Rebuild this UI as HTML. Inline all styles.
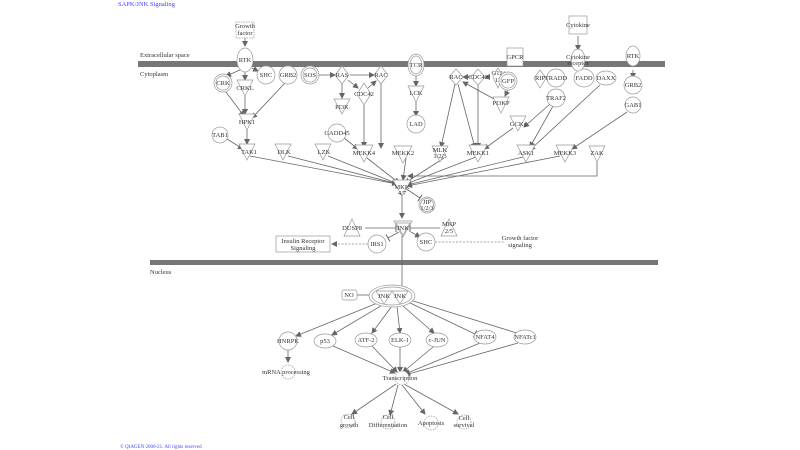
<!DOCTYPE html>
<html><head><style>
body{margin:0;background:#fff;width:800px;height:450px;overflow:hidden}
svg{display:block}
text{font-family:"Liberation Serif",serif;font-size:6.5px;fill:#333;text-anchor:middle}
.n{fill:#fff;stroke:#999;stroke-width:0.7}
.l{stroke:#666;stroke-width:0.8;fill:none}
.d{stroke:#888;stroke-width:0.7;fill:none;stroke-dasharray:2,1.5}
</style></head><body>
<svg width="800" height="450" viewBox="0 0 800 450">
<defs><marker id="a" markerWidth="6" markerHeight="6" refX="5" refY="3" orient="auto" markerUnits="userSpaceOnUse"><path d="M0,0L6,3L0,6z" fill="#666"/></marker>
<marker id="t" markerWidth="2" markerHeight="8" refX="1" refY="4" orient="auto" markerUnits="userSpaceOnUse"><path d="M1,0V8" stroke="#666" stroke-width="1"/></marker></defs>
<text x="118" y="6" style="fill:#44f;text-anchor:start">SAPK/JNK Signaling</text>
<text x="120" y="448" style="fill:#44f;text-anchor:start;font-size:5px">© QIAGEN 2000-21. All rights reserved</text>
<rect x="138" y="61" width="527" height="6" fill="#777"/>
<text x="140" y="57" style="text-anchor:start">Extracellular space</text>
<text x="140" y="76" style="text-anchor:start">Cytoplasm</text>
<rect x="150" y="260" width="508" height="5" fill="#777"/>
<text x="150" y="274" style="text-anchor:start">Nucleus</text>
<g class="l" marker-end="url(#a)">
<path d="M245,38V46"/><path d="M240,70L226,76"/><path d="M245,72V80"/><path d="M252,68L258,71"/>
<path d="M226,92L244,116"/><path d="M245,96V114"/><path d="M285,83L252,118"/><path d="M247,128V144"/>
<path d="M227,139L243,149"/><path d="M318,75H335"/><path d="M350,75H374"/><path d="M342,82V98"/><path d="M348,80L358,88"/><path d="M368,88L376,81"/>
<path d="M364,101V147"/><path d="M381,82V148"/><path d="M344,138L358,149"/><path d="M416,73V86"/><path d="M416,100V116"/>
<path d="M455,84L441,147"/><path d="M458,84L475,148"/><path d="M478,85V148"/><path d="M472,77H463"/><path d="M490,77H485"/><path d="M496,100L463,82"/>
<path d="M508,90L505,96"/><path d="M578,36V50"/><path d="M553,106L530,147"/><path d="M550,104L524,127"/><path d="M513,128L484,149"/><path d="M600,85L530,150"/>
<path d="M633,70V78"/>
<path d="M250,156L397,184"/><path d="M288,156L398,184"/><path d="M328,156L398,184"/><path d="M367,158L399,183"/><path d="M406,158L403,180"/><path d="M444,158L405,183"/><path d="M476,157L406,184"/><path d="M523,157L407,185"/><path d="M560,156L407,186"/><path d="M597,162V176H408"/><path d="M627,112L572,149"/>
<path d="M402,194V218"/><path d="M411,232L420,237"/>
<path d="M400,325L372,298" style="display:none"/>
<path d="M380,302L296,336"/><path d="M384,304L332,335"/><path d="M392,306L372,333"/><path d="M397,306L400,333"/><path d="M403,306L434,333"/><path d="M288,350V362"/>
<path d="M333,346L395,373"/><path d="M372,346L397,372"/><path d="M400,347V372"/><path d="M433,347L403,372"/><path d="M480,343L405,374"/><path d="M518,343L405,375"/>
<path d="M396,384L352,414"/><path d="M398,385L390,415"/><path d="M402,385L425,414"/><path d="M404,384L458,414"/>
</g>
<g class="l" marker-end="url(#t)">
<path d="M408,302L475,334"/><path d="M410,300L520,334"/><path d="M365,228H396"/><path d="M440,228H410"/><path d="M399,232L388,238"/><path d="M402,236V287"/><path d="M357,295H372"/><path d="M405,188L420,198"/>
</g>
<path class="d" d="M368,244H332" marker-end="url(#a)"/><path class="d" d="M435,242H505"/>
<path class="l" d="M245,20V38" style="display:none"/>
<!-- nodes -->
<rect class="n" x="236" y="22" width="18" height="16" style="stroke-dasharray:1.5,1"/><text x="245" y="28">Growth</text><text x="245" y="35">factor</text>
<ellipse class="n" cx="245" cy="60" rx="8" ry="12"/><text x="245" y="62">RTK</text>
<circle class="n" cx="223" cy="83" r="9"/><circle class="n" cx="223" cy="83" r="7"/><text x="223" y="85">CRK</text>
<path class="n" d="M237,80H253L245,96z"/><text x="245" y="90">CRKL</text>
<circle class="n" cx="266" cy="75" r="9"/><text x="266" y="77">SHC</text>
<circle class="n" cx="288" cy="75" r="9"/><text x="288" y="77">GRB2</text>
<circle class="n" cx="310" cy="75" r="9"/><circle class="n" cx="310" cy="75" r="7"/><text x="310" y="77">SOS</text>
<path class="n" d="M342,66L349,75L342,84L335,75z"/><text x="342" y="77">RAS</text>
<path class="n" d="M381,66L388,75L381,84L374,75z"/><text x="381" y="77">RAC</text>
<path class="n" d="M364,83L371,94L364,105L357,94z"/><text x="364" y="96">CDC42</text>
<path class="n" d="M334,99H350L342,114z"/><text x="342" y="109">PI3K</text>
<path class="n" d="M239,114H255L247,130z"/><text x="247" y="124">HPK1</text>
<circle class="n" cx="220" cy="135" r="8"/><text x="220" y="137">TAB1</text>
<path class="n" d="M239,144H255L247,160z"/><text x="249" y="154">TAK1</text>
<path class="n" d="M275,144H291L283,160z"/><text x="284" y="154">DLK</text>
<path class="n" d="M315,144H331L323,160z"/><text x="324" y="154">LZK</text>
<circle class="n" cx="337" cy="133" r="9"/><text x="337" y="135">GADD45</text>
<path class="n" d="M355,145H373L364,162z"/><text x="364" y="155">MEKK4</text>
<ellipse class="n" cx="416" cy="65" rx="8" ry="11"/><ellipse class="n" cx="416" cy="65" rx="6" ry="9"/><text x="416" y="67">TCR</text>
<path class="n" d="M408,86H424L416,102z"/><text x="416" y="95">LCK</text>
<circle class="n" cx="416" cy="124" r="9"/><text x="416" y="126">LAD</text>
<path class="n" d="M394,146H412L403,163z"/><text x="403" y="155">MEKK2</text>
<path class="n" d="M456,69L463,77L456,85L449,77z"/><text x="456" y="79">RAC</text>
<path class="n" d="M478,69L485,77L478,85L471,77z"/><text x="478" y="79">CDC42</text>
<path class="n" d="M498,68L503,77L498,88L493,77z"/><text x="498" y="75">G12/</text><text x="498" y="82">13</text>
<rect class="n" x="507" y="48" width="16" height="18"/><text x="515" y="59">GPCR</text>
<circle class="n" cx="508" cy="81" r="9"/><circle class="n" cx="508" cy="81" r="7"/><text x="508" y="83">GFP</text>
<path class="n" d="M493,97H509L501,113z"/><text x="501" y="105">PI3KP</text>
<path class="n" d="M432,146H448L440,162z"/><text x="440" y="152">MLK</text><text x="440" y="158">1/2/3</text>
<path class="n" d="M469,145H487L478,162z"/><text x="478" y="155">MEKK1</text>
<path class="n" d="M510,116H526L518,131z"/><text x="518" y="126">GCKs</text>
<path class="n" d="M540,70L546,78L540,88L534,78z"/><text x="540" y="80">RIP</text>
<circle class="n" cx="556" cy="78" r="9"/><text x="556" y="80">TRADD</text>
<ellipse class="n" cx="584" cy="78" rx="10" ry="9"/><text x="584" y="80">FADD</text>
<ellipse class="n" cx="606" cy="78" rx="10" ry="7"/><text x="606" y="80">DAXX</text>
<rect class="n" x="569" y="16" width="18" height="18"/><text x="578" y="27">Cytokine</text>
<ellipse class="n" cx="578" cy="60" rx="7" ry="11"/><text x="578" y="59">Cytokine</text><text x="578" y="65">receptor</text>
<circle class="n" cx="556" cy="98" r="9"/><text x="556" y="100">TRAF2</text>
<path class="n" d="M517,145H535L526,162z"/><text x="526" y="155">ASK1</text>
<path class="n" d="M556,145H574L565,162z"/><text x="565" y="155">MEKK3</text>
<path class="n" d="M589,146H605L597,162z"/><text x="597" y="155">ZAK</text>
<ellipse class="n" cx="633" cy="56" rx="7" ry="10"/><text x="633" y="58">RTK</text>
<circle class="n" cx="633" cy="85" r="9"/><text x="633" y="87">GRB2</text>
<circle class="n" cx="633" cy="105" r="8"/><text x="633" y="107">GAB1</text>
<path class="n" d="M393,180H411L402,196z"/><text x="402" y="189">MKK</text><text x="402" y="195">4/7</text>
<circle class="n" cx="427" cy="205" r="8"/><circle class="n" cx="427" cy="205" r="6.5"/><text x="427" y="204">JIP</text><text x="427" y="210">1/2/3</text>
<path class="n" d="M394,221H412L403,237z"/><path class="n" d="M396,223H410L403,235z"/><text x="403" y="230">JNK</text>
<path class="n" d="M352,219L360,236H344z"/><text x="352" y="230">DUSP8</text>
<path class="n" d="M449,219L457,236H441z"/><text x="449" y="226">MKP</text><text x="449" y="233">2/5</text>
<circle class="n" cx="377" cy="244" r="9"/><text x="377" y="246">IRS1</text>
<circle class="n" cx="426" cy="242" r="9"/><text x="426" y="244">SHC</text>
<rect class="n" x="276" y="236" width="54" height="16"/><text x="303" y="243">Insulin Receptor</text><text x="303" y="250">Signaling</text>
<text x="520" y="240">Growth factor</text><text x="520" y="247">signaling</text>
<ellipse class="n" cx="392" cy="296" rx="23" ry="11"/><ellipse class="n" cx="392" cy="296" rx="20" ry="9"/>
<path class="n" d="M376,291H392L384,304z"/><path class="n" d="M392,291H408L400,304z"/><text x="384" y="298">JNK</text><text x="400" y="298">JNK</text>
<rect class="n" x="342" y="290" width="15" height="10" rx="2"/><text x="349" y="297">NO</text>
<circle class="n" cx="288" cy="341" r="9"/><text x="288" y="343">HNRPK</text>
<ellipse class="n" cx="325" cy="341" rx="11" ry="7"/><text x="325" y="343">p53</text>
<ellipse class="n" cx="366" cy="340" rx="11" ry="7"/><text x="366" y="342">ATF-2</text>
<ellipse class="n" cx="400" cy="340" rx="11" ry="7"/><text x="400" y="342">ELK-1</text>
<ellipse class="n" cx="437" cy="340" rx="11" ry="7"/><text x="437" y="342">c-JUN</text>
<ellipse class="n" cx="485" cy="337" rx="11" ry="7"/><text x="485" y="339">NFAT4</text>
<ellipse class="n" cx="525" cy="337" rx="11" ry="7"/><text x="525" y="339">NFATc1</text>
<circle class="n" cx="288" cy="372" r="7" style="stroke-dasharray:1.5,1"/><text x="286" y="374">mRNA processing</text>
<circle class="n" cx="402" cy="378" r="7" style="stroke-dasharray:1.5,1"/><text x="400" y="380">Transcription</text>
<circle class="n" cx="348" cy="421" r="7" style="stroke-dasharray:1.5,1"/><text x="349" y="419">Cell</text><text x="349" y="427">growth</text>
<circle class="n" cx="388" cy="422" r="7" style="stroke-dasharray:1.5,1"/><text x="388" y="419">Cell</text><text x="388" y="427">Differentiation</text>
<circle class="n" cx="431" cy="423" r="7" style="stroke-dasharray:1.5,1"/><text x="431" y="425">Apoptosis</text>
<circle class="n" cx="464" cy="422" r="7" style="stroke-dasharray:1.5,1"/><text x="464" y="420">Cell</text><text x="464" y="427">survival</text>
</svg>
</body></html>
